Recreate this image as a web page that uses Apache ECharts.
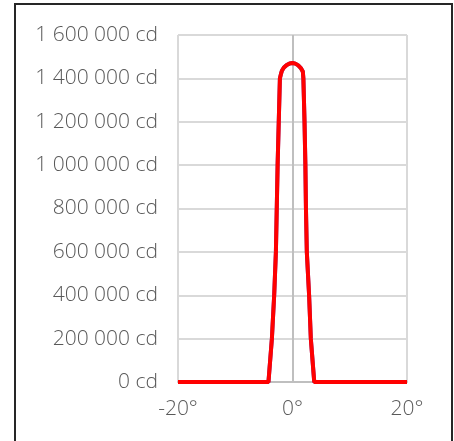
<!DOCTYPE html>
<html>
<head>
<meta charset="utf-8">
<script src="https://cdn.jsdelivr.net/npm/echarts@6/dist/echarts.min.js"></script>
<style>
html,body{margin:0;padding:0;background:#fff;}
#c{width:454px;height:441px;}
</style>
</head>
<body>
<div id="c"></div>
<script>
// Angles (degrees) and luminous intensity (cd)
const angles = [-20, -4.2, -3.6, -3.2, -2.9, -2.75, -2.6, -2.4, -2.2, -2.0, -1.85, -1.5, -1.0, -0.5, 0, 0.5, 1.0, 1.5, 1.8, 1.9, 2.1, 2.25, 2.35, 2.5, 2.9, 3.2, 3.8, 20];
const intensity = [0, 0, 200000, 400000, 600000, 800000, 1000000, 1200000, 1400000, 1422000, 1435000, 1450000, 1462000, 1469000, 1471000, 1468000, 1460000, 1446000, 1432000, 1400000, 1200000, 1000000, 800000, 600000, 400000, 200000, 0, 0];
const xTicks = [-20, 0, 20];
const yMax = 1600000;
const yStep = 200000;

const pts = angles.map((a, i) => [a, intensity[i]]);
function fmtCd(v){ return String(v).replace(/\B(?=(\d{3})+(?!\d))/g, ' ') + ' cd'; }

const chart = echarts.init(document.getElementById('c'), null, {renderer:'canvas'});
chart.setOption({
  animation:false,
  backgroundColor:'#ffffff',
  textStyle:{fontFamily:'"Open Sans", "Noto Sans", sans-serif'},
  graphic:[{type:'rect', shape:{x:15, y:4, width:437, height:460}, style:{fill:'none', stroke:'#262626', lineWidth:2}, z:100}],
  grid:{left:178, right:47, top:35, bottom:59, containLabel:false},
  xAxis:{
    type:'value', min:xTicks[0], max:xTicks[xTicks.length-1], interval:20,
    axisLine:{show:true, onZero:false, lineStyle:{color:'#bfbfbf', width:2}},
    axisTick:{show:false},
    splitLine:{show:true, lineStyle:{color:'#d9d9d9', width:2}},
    axisLabel:{color:'#595959', fontSize:21, fontWeight:300, margin:17, formatter:v=>v+'°'}
  },
  yAxis:{
    type:'value', min:0, max:yMax, interval:yStep,
    axisLine:{show:false}, axisTick:{show:false},
    splitLine:{show:true, lineStyle:{color:'#d9d9d9', width:2}},
    axisLabel:{color:'#595959', fontSize:21, fontWeight:300, margin:20, formatter:fmtCd}
  },
  series:[
    {type:'line', data:pts, showSymbol:false, symbol:'none', z:2,
     lineStyle:{color:'#7030a0', width:4},
     markLine:{silent:true, symbol:'none', label:{show:false}, lineStyle:{color:'#bfbfbf', width:2, type:'solid'}, data:[{xAxis:0}], z:1}},
    {type:'line', data:pts, showSymbol:false, symbol:'none', z:3,
     lineStyle:{color:'#ff0000', width:4}}
  ]
});
</script>
</body>
</html>
